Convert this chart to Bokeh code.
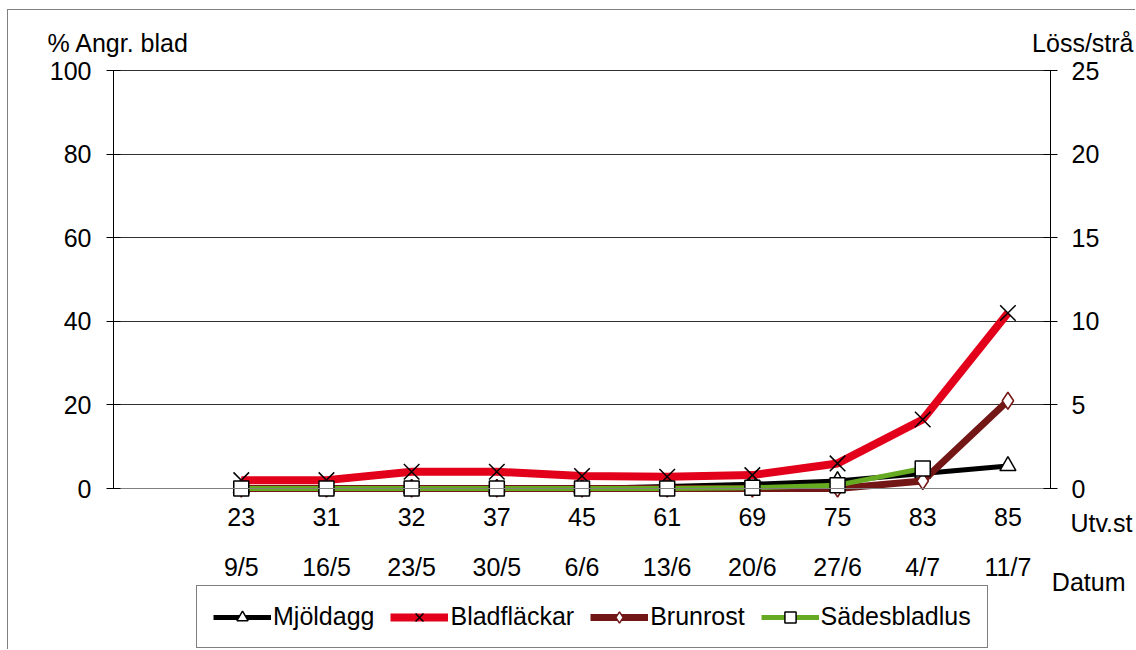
import numpy as np
from bokeh.plotting import figure
from bokeh.models import (Range1d, LinearAxis, FixedTicker, Legend, LegendItem,
                          ColumnDataSource, Grid, Label)
from bokeh.embed import file_html
from bokeh.resources import INLINE

# ---- data ----
stages = ["23", "31", "32", "37", "45", "61", "69", "75", "83", "85"]
dates = ["9/5", "16/5", "23/5", "30/5", "6/6", "13/6", "20/6", "27/6", "4/7", "11/7"]
mjoldagg = [0, 0, 0, 0, 0, 0.5, 1.0, 1.8, 3.6, 5.4]            # % angr. blad
bladflackar = [2, 2, 4, 4, 3, 2.8, 3.2, 6, 16.5, 42]            # % angr. blad
brunrost = [0, 0, 0, 0, 0, 0, 0, 0, 1.8, 21]                     # % angr. blad
sadesbladlus = [0, 0, 0, 0, 0, 0, 0.05, 0.2, 1.2, float("nan")]  # löss/strå (right axis)
left_ticks = [0, 20, 40, 60, 80, 100]
right_ticks = [0, 5, 10, 15, 20, 25]
left_title = "% Angr. blad"
right_title = "Löss/strå"
row1_title = "Utv.st"
row2_title = "Datum"

FONT = "Liberation Sans"
FS = "25px"

# ---- layout constants (pixels on the canvas) ----
W, H = 1128, 640                   # canvas size (canvas placed at page 8,10)
PL, PR, PT, PB = 105, 1042, 60, 478  # plot area edges on canvas
NSLOT = len(stages) + 1            # first category slot left empty
YMAX, LMAX = left_ticks[-1], right_ticks[-1]

xs = [i + 1.5 for i in range(len(stages))]
sx = (PR - PL) / NSLOT
sy = (PB - PT) / YMAX
x_range = Range1d(-PL / sx, NSLOT + (W - PR) / sx)
y_range = Range1d(-(H - PB) / sy, YMAX + PT / sy)
ratio = LMAX / YMAX
lice_range = Range1d(y_range.start * ratio, y_range.end * ratio)

src = ColumnDataSource(dict(x=xs, mj=mjoldagg, bl=bladflackar, br=brunrost,
                            sb=np.array(sadesbladlus, dtype=float)))

p = figure(width=W, height=H, x_range=x_range, y_range=y_range,
           output_backend="svg", toolbar_location=None,
           x_axis_location=None, y_axis_location=None, min_border=0)
p.extra_y_ranges = {"lice": lice_range}
p.outline_line_color = None
p.background_fill_color = "white"
p.border_fill_color = "white"
p.styles = {"margin-left": "7px", "margin-top": "9px",
            "border-left": "1px solid #808080", "border-top": "1px solid #808080"}

# remove default grids, add horizontal grid lines limited to the plot area
p.center = [r for r in p.center if not isinstance(r, Grid)]
try:
    g = Grid(dimension=1, ticker=FixedTicker(ticks=left_ticks[1:]), bounds=(0, YMAX),
             cross_bounds=(0, NSLOT), grid_line_color="#303030", grid_line_width=1)
    p.add_layout(g)
except AttributeError:
    p.segment(x0=0, x1=NSLOT, y0=left_ticks[1:], y1=left_ticks[1:],
              line_color="#303030", line_width=1)


def style_axis(ax):
    ax.major_label_text_font = FONT
    ax.major_label_text_font_size = FS
    ax.major_label_text_color = "black"
    ax.minor_tick_line_color = None


left = LinearAxis(ticker=FixedTicker(ticks=left_ticks), fixed_location=0, bounds=(0, YMAX),
                  major_tick_in=7, major_tick_out=7, axis_line_color="black",
                  major_tick_line_color="black", major_label_standoff=15)
style_axis(left)
p.add_layout(left, "left")

right = LinearAxis(y_range_name="lice", ticker=FixedTicker(ticks=right_ticks),
                   fixed_location=NSLOT, bounds=(0, LMAX),
                   major_tick_in=7, major_tick_out=7, axis_line_color="black",
                   major_tick_line_color="black", major_label_standoff=14)
style_axis(right)
p.add_layout(right, "right")

bottom1 = LinearAxis(ticker=FixedTicker(ticks=xs), fixed_location=0, bounds=(0, NSLOT),
                     major_label_overrides={x: s for x, s in zip(xs, stages)},
                     major_tick_in=0, major_tick_out=0, axis_line_color="#808080",
                     major_tick_line_color=None, major_label_standoff=19)
style_axis(bottom1)
p.add_layout(bottom1, "below")

bottom2 = LinearAxis(ticker=FixedTicker(ticks=xs), fixed_location=0, bounds=(0, NSLOT),
                     major_label_overrides={x: s for x, s in zip(xs, dates)},
                     major_tick_in=0, major_tick_out=0, axis_line_color=None,
                     major_tick_line_color=None, major_label_standoff=64)
style_axis(bottom2)
p.add_layout(bottom2, "below")

# ---- series ----
l1 = p.line("x", "mj", source=src, line_color="black", line_width=5)
m1 = p.scatter("x", "mj", source=src, marker="triangle", size=16, fill_color="white",
               line_color="black", line_width=1.5)
l2 = p.line("x", "bl", source=src, line_color="#E2001A", line_width=8)
m2 = p.scatter("x", "bl", source=src, marker="x", size=22, line_color="black", line_width=1.5)
l3 = p.line("x", "br", source=src, line_color="#731616", line_width=7)
m3 = p.scatter("x", "br", source=src, marker="diamond", size=17, fill_color="white",
               line_color="#731616", line_width=1.5)
l4 = p.line("x", "sb", source=src, line_color="#66AA22", line_width=5, y_range_name="lice")
m4 = p.scatter("x", "sb", source=src, marker="square", size=15, fill_color="white",
               line_color="black", line_width=1.5, y_range_name="lice")

legend = Legend(items=[LegendItem(label="Mjöldagg", renderers=[l1, m1]),
                       LegendItem(label="Bladfläckar", renderers=[l2, m2]),
                       LegendItem(label="Brunrost", renderers=[l3, m3]),
                       LegendItem(label="Sädesbladlus", renderers=[l4, m4])],
                orientation="horizontal", location=(188, 2),
                border_line_color="black", border_line_width=1,
                background_fill_color="white", background_fill_alpha=1,
                label_text_font=FONT, label_text_font_size="25px",
                label_text_color="black",
                glyph_width=58, glyph_height=28, label_height=28,
                label_standoff=2, spacing=16, padding=16, margin=0)
p.add_layout(legend)


def lab(text, x, y, align="left"):
    # screen units: from bottom-left of the canvas-sized frame
    p.add_layout(Label(x=x, y=y, x_units="screen", y_units="screen", text=text,
                       text_font=FONT, text_font_size=FS, text_align=align,
                       text_baseline="middle", text_color="black"))


lab(left_title, 39, H - 32)
lab(right_title, 1125, H - 32, "right")
lab(row1_title, 1124, H - 512, "right")
lab(row2_title, 1117, H - 571, "right")

open("out.html", "w").write(file_html(p, INLINE))
